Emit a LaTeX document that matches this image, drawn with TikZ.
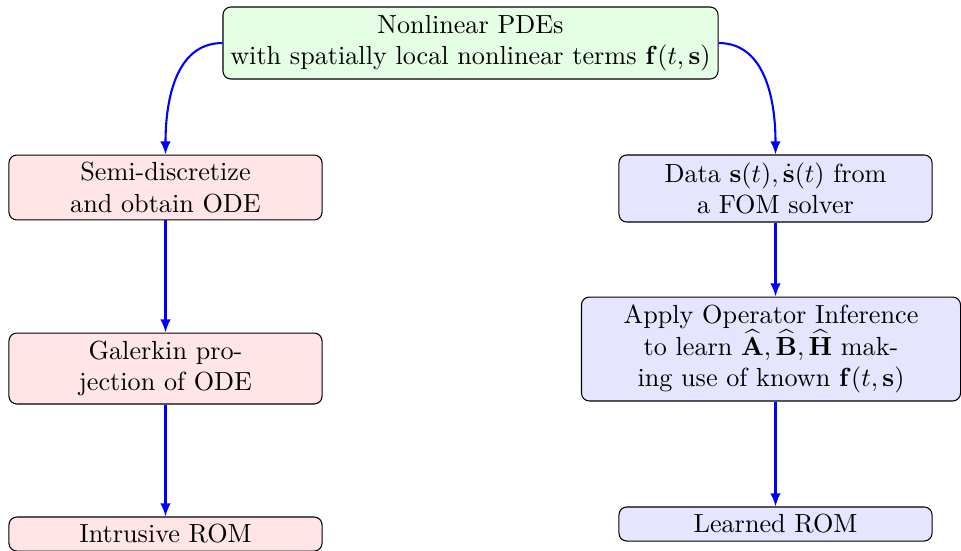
\documentclass[tikz,border=0pt]{standalone}
\usepackage{amsmath}
\usetikzlibrary{arrows.meta}
\begin{document}
\begin{tikzpicture}[x=0.382pt,y=-0.382pt,
  box/.style={draw=black, rounded corners=3pt, align=center, inner xsep=2pt, inner ysep=1pt, line width=0.4pt},
  greenbox/.style={box, fill=green!10},
  redbox/.style={box, fill=red!10},
  bluebox/.style={box, fill=blue!10},
  conn/.style={draw=blue, line width=0.8pt, -{Latex[length=5pt,width=4pt]}}]
\useasboundingbox (0,0) rectangle (961,550);
\node[greenbox, minimum width=189.1pt, minimum height=27.5pt] (top) at (470.5,43)
  {Nonlinear PDEs\\with spatially local nonlinear terms $\mathbf{f}(t,\mathbf{s})$};
\node[redbox, minimum width=119.6pt, minimum height=24.8pt] (l1) at (165.5,187.5)
  {Semi-discretize\\and obtain ODE};
\node[redbox, minimum width=119.6pt, minimum height=27.1pt] (l2) at (165.5,368.5)
  {Galerkin pro-\\jection of ODE};
\node[redbox, minimum width=119.6pt, minimum height=13pt] (l3) at (165.5,534)
  {Intrusive ROM};
\node[bluebox, minimum width=119.6pt, minimum height=25.6pt] (r1) at (775.5,188.5)
  {Data $\mathbf{s}(t),\dot{\mathbf{s}}(t)$ from\\a FOM solver};
\node[bluebox, minimum width=144.8pt, minimum height=39.7pt] (r2) at (771,349)
  {Apply Operator Inference\\to learn $\widehat{\mathbf{A}},\widehat{\mathbf{B}},\widehat{\mathbf{H}}$ mak-\\ing use of known $\mathbf{f}(t,\mathbf{s})$};
\node[bluebox, minimum width=119.6pt, minimum height=13pt] (r3) at (775.5,524)
  {Learned ROM};
\draw[conn] (top.west) to[out=180,in=90] (l1.north);
\draw[conn] (top.east) to[out=0,in=90] (r1.north);
\draw[conn] (l1.south) -- (l2.north);
\draw[conn] (l2.south) -- (l3.north);
\draw[conn] (r1.south) -- (r1.south |- r2.north);
\draw[conn] (r1.south |- r2.south) -- (r3.north);
\end{tikzpicture}
\end{document}
